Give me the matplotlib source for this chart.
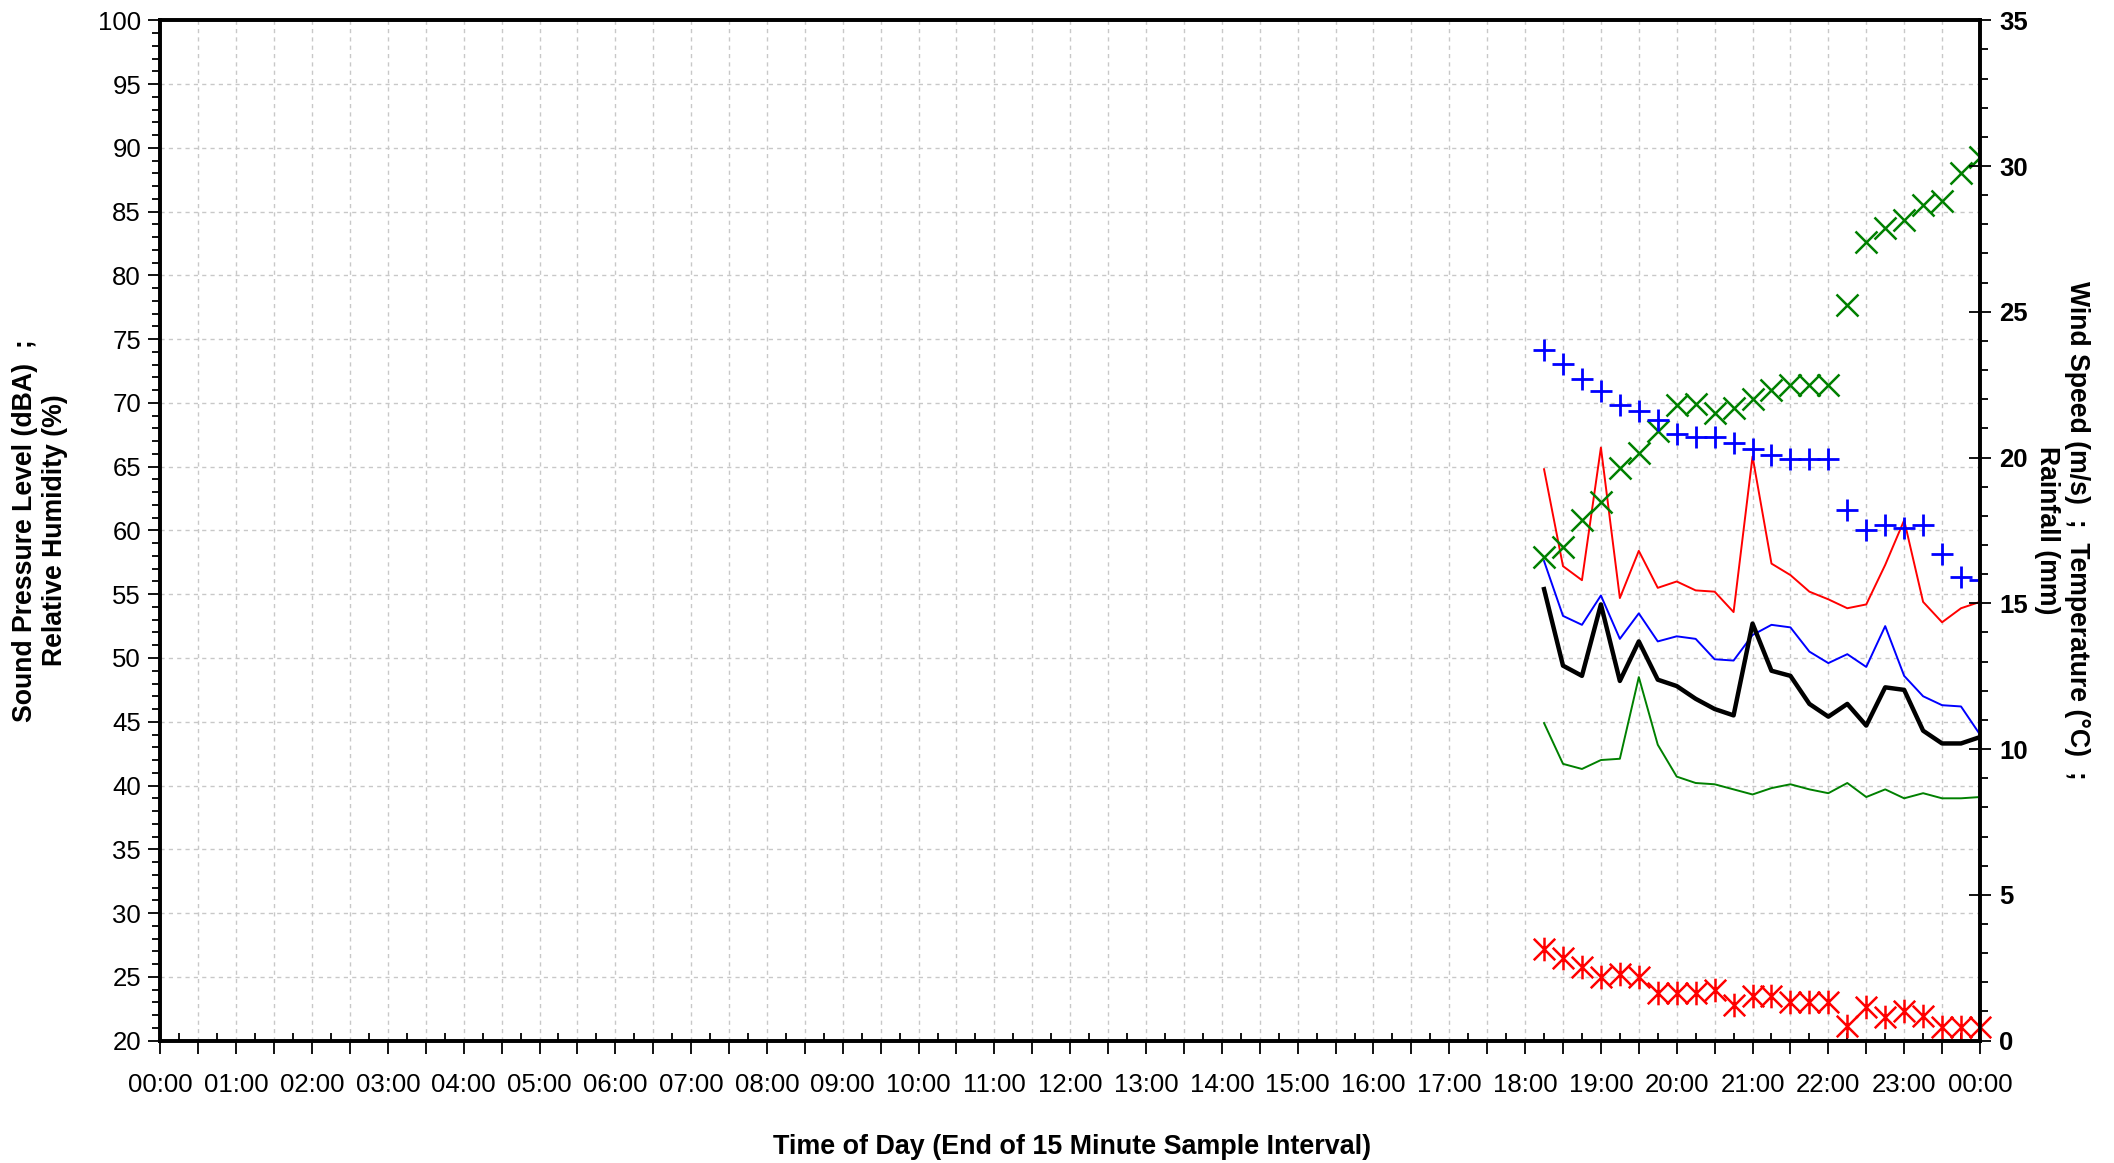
"""Noise and weather log for one day, 15 minute samples."""

import numpy as np
import matplotlib.pyplot as plt
from matplotlib.path import Path
from matplotlib.ticker import MultipleLocator, FuncFormatter

plt.rcParams["font.family"] = ["Liberation Sans", "DejaVu Sans"]

# end of each 15 minute sample interval
times = ["18:15", "18:30", "18:45", "19:00", "19:15", "19:30", "19:45", "20:00",
         "20:15", "20:30", "20:45", "21:00", "21:15", "21:30", "21:45", "22:00",
         "22:15", "22:30", "22:45", "23:00", "23:15", "23:30", "23:45", "00:00"]

# sound levels, dBA
lamax = [64.8, 57.2, 56.1, 66.5, 54.7, 58.4, 55.5, 56.0, 55.3, 55.2, 53.6, 65.8,
         57.4, 56.5, 55.2, 54.6, 53.9, 54.2, 57.3, 60.8, 54.4, 52.8, 53.9, 54.4]
la10 = [57.6, 53.3, 52.6, 54.9, 51.5, 53.5, 51.3, 51.7, 51.5, 49.9, 49.8, 51.8,
        52.6, 52.4, 50.5, 49.6, 50.3, 49.3, 52.5, 48.6, 47.0, 46.3, 46.2, 44.0]
laeq = [55.4, 49.4, 48.6, 54.2, 48.2, 51.3, 48.3, 47.8, 46.8, 46.0, 45.5, 52.7,
        49.0, 48.6, 46.4, 45.4, 46.4, 44.7, 47.7, 47.5, 44.3, 43.3, 43.3, 43.8]
la90 = [44.9, 41.7, 41.3, 42.0, 42.1, 48.5, 43.2, 40.7, 40.2, 40.1, 39.7, 39.3,
        39.8, 40.1, 39.7, 39.4, 40.2, 39.1, 39.7, 39.0, 39.4, 39.0, 39.0, 39.1]

# relative humidity, %
humidity = [57.9, 58.7, 60.8, 62.2, 64.9, 66.1, 67.8, 69.8, 69.9, 69.2, 69.6, 70.3,
            71.0, 71.4, 71.4, 71.4, 77.7, 82.6, 83.7, 84.3, 85.5, 85.8, 88.0, 89.3]

# temperature, deg C
temperature = [23.7, 23.2, 22.7, 22.3, 21.8, 21.6, 21.3, 20.8, 20.7, 20.7, 20.5, 20.3,
               20.1, 19.95, 19.95, 19.95, 18.2, 17.5, 17.7, 17.6, 17.7, 16.7, 15.9, 15.8]

# wind speed, m/s
wind = [3.16, 2.82, 2.51, 2.17, 2.27, 2.17, 1.63, 1.63, 1.63, 1.74, 1.23, 1.54,
        1.54, 1.31, 1.31, 1.31, 0.51, 1.14, 0.82, 1.00, 0.86, 0.46, 0.46, 0.46]


def to_hours(labels):
    out = []
    prev = 0.0
    for s in labels:
        h, m = s.split(":")
        v = int(h) + int(m) / 60.0
        while v < prev:
            v += 24.0
        out.append(v)
        prev = v
    return np.array(out)


t = to_hours(times)

# asterisk made of an X with a vertical bar through it
star = Path([(-1, -1), (1, 1), (-1, 1), (1, -1), (0, -1.1), (0, 1.1)],
            [Path.MOVETO, Path.LINETO, Path.MOVETO, Path.LINETO, Path.MOVETO, Path.LINETO])

fig = plt.figure(figsize=(21.14, 11.63), dpi=100)
ax = fig.add_subplot(111)
fig.subplots_adjust(left=0.0759, right=0.9366, top=0.9826, bottom=0.1052)
ax2 = ax.twinx()

ax.plot(t, lamax, color="red", lw=1.4, zorder=3)
ax.plot(t, la10, color="blue", lw=1.4, zorder=3)
ax.plot(t, laeq, color="black", lw=3.2, zorder=3)
ax.plot(t, la90, color="green", lw=1.4, zorder=3)
ax.plot(t, humidity, ls="none", marker="x", ms=15.5, mew=1.8, color="green", zorder=4)

ax2.plot(t, temperature, ls="none", marker="+", ms=16, mew=2.0, color="blue")
ax2.plot(t, wind, ls="none", marker=star, ms=17, mew=1.8, color="red", clip_on=False)

ax.set_xlim(0, 24)
ax.set_ylim(20, 100)
ax2.set_ylim(0, 35)

ax.xaxis.set_major_locator(MultipleLocator(0.5))
ax.xaxis.set_minor_locator(MultipleLocator(0.25))
ax.xaxis.set_major_formatter(FuncFormatter(
    lambda v, p: "%02d:00" % (int(round(v)) % 24) if abs(v - round(v)) < 1e-6 else ""))
ax.yaxis.set_major_locator(MultipleLocator(5))
ax.yaxis.set_minor_locator(MultipleLocator(1))
ax2.yaxis.set_major_locator(MultipleLocator(5))
ax2.yaxis.set_minor_locator(MultipleLocator(1))

ax.tick_params(axis="x", which="major", direction="out", length=9, width=1.3,
               labelsize=18.5, pad=14)
ax.tick_params(axis="x", which="minor", direction="in", length=6, width=1.3)
ax.tick_params(axis="y", which="major", direction="out", length=9, width=1.3,
               labelsize=18.5, pad=5)
ax.tick_params(axis="y", which="minor", direction="out", length=6, width=1.3)
ax2.tick_params(axis="y", which="major", direction="inout", length=16, width=1.3,
                labelsize=18.5, pad=6)
ax2.tick_params(axis="y", which="minor", direction="out", length=6, width=1.3)
for lab in ax2.get_yticklabels():
    lab.set_fontweight("bold")

ax.grid(True, which="major", color="#c8c8c8", ls=(0, (3, 3)), lw=1.0)
ax.set_axisbelow(True)

for a in (ax, ax2):
    for sp in a.spines.values():
        sp.set_linewidth(2.6)
        sp.set_color("black")

ax.set_xlabel("Time of Day (End of 15 Minute Sample Interval)", fontsize=19.4,
              fontweight="bold", va="center")
ax.xaxis.set_label_coords(0.5008, -0.104)
ax.set_ylabel("Sound Pressure Level (dBA)  ;\nRelative Humidity (%)", fontsize=19.2,
              fontweight="bold", multialignment="center", va="center")
ax.yaxis.set_label_coords(-0.066, 0.5)
ax2.set_ylabel("Wind Speed (m/s)  ;  Temperature (°C)  ;\nRainfall (mm)", fontsize=19.2,
               fontweight="bold", rotation=270, multialignment="center", va="center")
ax2.yaxis.set_label_coords(1.045, 0.5)

fig.savefig("out.png", dpi=100)
